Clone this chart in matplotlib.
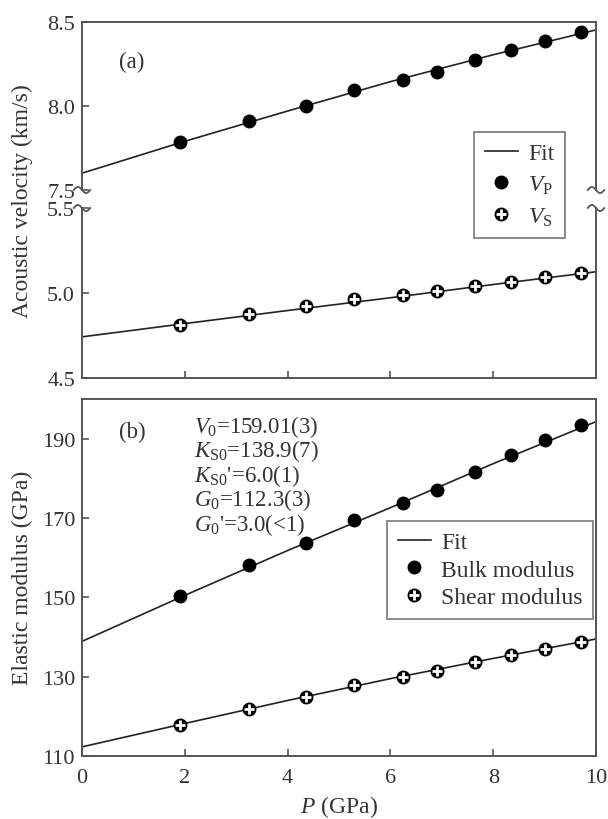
import numpy as np
import matplotlib
matplotlib.use("Agg")
import matplotlib.pyplot as plt

plt.rcParams['font.family'] = ['Liberation Serif', 'DejaVu Serif']
plt.rcParams['mathtext.fontset'] = 'custom'
plt.rcParams['mathtext.rm'] = 'Liberation Serif'
plt.rcParams['mathtext.it'] = 'Liberation Serif:italic'
plt.rcParams['font.size'] = 16

# pressure points (GPa)
P = [1.9, 3.25, 4.35, 5.3, 6.25, 6.9, 7.65, 8.35, 9.0, 9.7]

# acoustic velocities (km/s)
vp = [7.785, 7.908, 8.0, 8.098, 8.157, 8.202, 8.271, 8.334, 8.385, 8.441]
vs = [4.812, 4.875, 4.924, 4.964, 4.990, 5.010, 5.041, 5.067, 5.095, 5.117]

# elastic moduli (GPa)
bulk = [150.4, 158.2, 163.7, 169.5, 173.9, 177.1, 181.5, 185.9, 189.6, 193.4]
shear = [117.8, 121.9, 125.0, 128.0, 130.0, 131.5, 133.6, 135.5, 137.0, 138.7]

# fit curves
P_fit = [0, 2, 4, 6, 8, 10]
vp_fit = [7.60, 7.79, 7.97, 8.145, 8.305, 8.453]
vs_fit = [4.742, 4.820, 4.897, 4.972, 5.050, 5.125]
bulk_fit = [138.9, 150.5, 161.8, 172.6, 183.7, 194.3]
shear_fit = [112.3, 118.2, 124.0, 129.5, 134.6, 139.5]

params = [r"$\mathit{V}_0$=159.01(3)",
          r"$\mathit{K}_{\mathrm{S0}}$=138.9(7)",
          r"$\mathit{K}_{\mathrm{S0}}$'=6.0(1)",
          r"$\mathit{G}_0$=112.3(3)",
          r"$\mathit{G}_0$'=3.0(<1)"]

spine_col = '#555555'
W, H = 608, 820
fig = plt.figure(figsize=(6.08, 8.2), dpi=100)


def box(x0, y0, x1, y1):
    return [x0 / W, 1 - y1 / H, (x1 - x0) / W, (y1 - y0) / H]


ax_hi = fig.add_axes(box(82, 23, 596, 191))
ax_lo = fig.add_axes(box(82, 209, 596, 379))
ax_b = fig.add_axes(box(82, 400, 596, 757))

for ax in (ax_hi, ax_lo, ax_b):
    ax.set_xlim(0, 10)
    for s in ax.spines.values():
        s.set_color(spine_col)
        s.set_linewidth(1.4)
    ax.tick_params(direction='in', length=5, width=1.2, color=spine_col,
                   labelsize=16, pad=5, labelcolor='#333333')

ax_hi.set_ylim(7.5, 8.5)
ax_hi.set_yticks([7.5, 8.0, 8.5])
ax_hi.set_yticklabels(['7.5', '8.0', '8.5'])
ax_hi.spines['bottom'].set_visible(False)
ax_hi.set_xticks([])

ax_lo.set_ylim(4.5, 5.5)
ax_lo.set_yticks([4.5, 5.0, 5.5])
ax_lo.set_yticklabels(['4.5', '5.0', '5.5'])
ax_lo.spines['top'].set_visible(False)
ax_lo.set_xticks([2, 4, 6, 8])
ax_lo.set_xticklabels([])

ax_b.set_ylim(110, 200)
ax_b.set_yticks([110, 130, 150, 170, 190])
ax_b.set_xticks([0, 2, 4, 6, 8, 10])
ax_b.tick_params(axis='x', pad=9)

# break marks
t = np.linspace(-1, 1, 40)
for ax, y0 in ((ax_hi, 0), (ax_lo, 1)):
    for x0 in (0, 1):
        ax.plot(x0 + 0.016 * t, y0 - 0.018 * np.sin(np.pi * t),
                transform=ax.transAxes, color=spine_col, lw=1.3,
                clip_on=False)

fit_kw = dict(color='#222222', lw=1.2)
dot_kw = dict(ls='none', marker='o', ms=9, color='black')
plus_kw = dict(ls='none', marker='+', ms=6.5, mew=2, color='white')

fit_line, = ax_hi.plot(P_fit, vp_fit, **fit_kw)
vp_pts, = ax_hi.plot(P, vp, **dot_kw)
ax_lo.plot(P_fit, vs_fit, **fit_kw)
vs_dot, = ax_lo.plot(P, vs, **dot_kw)
vs_plus, = ax_lo.plot(P, vs, **plus_kw)

ax_b.plot(P_fit, bulk_fit, **fit_kw)
ax_b.plot(P_fit, shear_fit, **fit_kw)
ax_b.plot(P, bulk, **dot_kw)
ax_b.plot(P, shear, **dot_kw)
ax_b.plot(P, shear, **plus_kw)

leg_kw = dict(loc='upper left', frameon=True, fancybox=False, numpoints=1,
              borderaxespad=0, handlelength=1.4, handletextpad=0.45,
              borderpad=0.45, fontsize=17, labelcolor='#333333')
leg1 = fig.legend([fit_line, vp_pts, (vs_dot, vs_plus)],
                  ['Fit', r'$\mathit{V}_{\mathrm{P}}$', r'$\mathit{V}_{\mathrm{S}}$'],
                  bbox_to_anchor=(474 / W, 1 - 133 / H), labelspacing=0.4,
                  **leg_kw)
leg2 = fig.legend([fit_line, vp_pts, (vs_dot, vs_plus)],
                  ['Fit', 'Bulk modulus', 'Shear modulus'],
                  bbox_to_anchor=(387 / W, 1 - 522 / H), labelspacing=0.25,
                  **leg_kw)
for leg in (leg1, leg2):
    leg.get_frame().set_edgecolor(spine_col)
    leg.get_frame().set_linewidth(1.2)

txt = dict(color='#333333', fontsize=16.5)
fig.text(132 / W, 1 - 62 / H, '(a)', ha='center', va='center', **txt)
fig.text(132 / W, 1 - 432 / H, '(b)', ha='center', va='center', **txt)
for i, s in enumerate(params):
    fig.text(194 / W, 1 - (427 + 24.5 * i) / H, s, ha='left', va='center',
             **txt)

lab = dict(color='#333333', fontsize=17)
fig.text(22 / W, 1 - 201 / H, 'Acoustic velocity (km/s)', rotation=90,
         ha='center', va='center', **lab)
fig.text(22 / W, 1 - 578 / H, 'Elastic modulus (GPa)', rotation=90,
         ha='center', va='center', **lab)
fig.text(339 / W, 1 - 807 / H, r'$\mathit{P}$ (GPa)', ha='center',
         va='center', **lab)

fig.savefig('out.png', dpi=100)
